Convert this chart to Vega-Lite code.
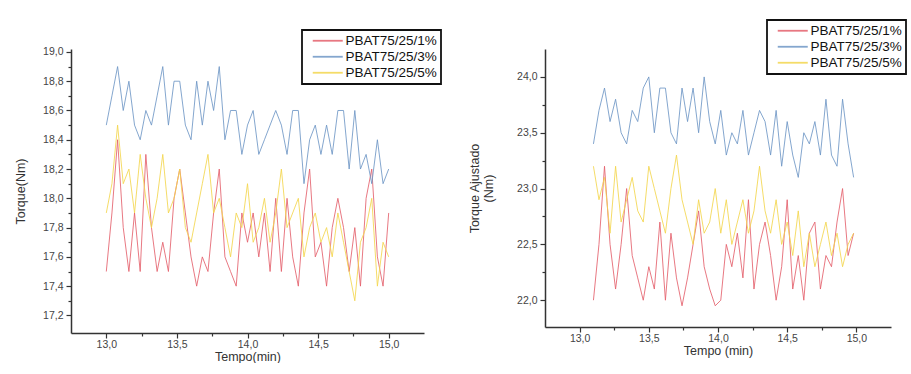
{
  "$schema": "https://vega.github.io/schema/vega-lite/v6.json",
  "background": "white",
  "padding": {"left": 14, "top": 19, "right": 0, "bottom": 0},
  "spacing": 121,
  "bounds": "flush",
  "config": {
    "font": "Liberation Sans",
    "view": {"stroke": null},
    "axis": {
      "grid": false,
      "domainColor": "#333333",
      "domainWidth": 1.5,
      "tickColor": "#333333",
      "tickWidth": 1.2,
      "labelFont": "Liberation Sans",
      "labelFontSize": 10.5,
      "labelColor": "#444444",
      "titleFont": "Liberation Sans",
      "titleFontSize": 12.5,
      "titleFontWeight": "normal",
      "titleColor": "#333333",
      "labelPadding": 3
    },
    "legend": {
      "orient": "none",
      "title": null,
      "strokeColor": "#111111",
      "strokeWidth": 1.8,
      "fillColor": "white",
      "padding": 4,
      "symbolType": "M0,0H10",
      "symbolSize": 36,
      "symbolStrokeWidth": 1.8,
      "labelFont": "Liberation Sans",
      "labelFontSize": 13.5,
      "labelColor": "#111111",
      "labelOffset": 26,
      "rowPadding": 1
    }
  },
  "datasets": {
    "left": [
      {"t": 13.00, "PBAT75/25/1%": 17.5, "PBAT75/25/3%": 18.5, "PBAT75/25/5%": 17.9},
      {"t": 13.04, "PBAT75/25/1%": 17.9, "PBAT75/25/3%": 18.7, "PBAT75/25/5%": 18.1},
      {"t": 13.08, "PBAT75/25/1%": 18.4, "PBAT75/25/3%": 18.9, "PBAT75/25/5%": 18.5},
      {"t": 13.12, "PBAT75/25/1%": 17.8, "PBAT75/25/3%": 18.6, "PBAT75/25/5%": 18.1},
      {"t": 13.16, "PBAT75/25/1%": 17.5, "PBAT75/25/3%": 18.8, "PBAT75/25/5%": 18.2},
      {"t": 13.20, "PBAT75/25/1%": 17.9, "PBAT75/25/3%": 18.5, "PBAT75/25/5%": 17.9},
      {"t": 13.24, "PBAT75/25/1%": 17.5, "PBAT75/25/3%": 18.4, "PBAT75/25/5%": 18.3},
      {"t": 13.28, "PBAT75/25/1%": 18.3, "PBAT75/25/3%": 18.6, "PBAT75/25/5%": 18.0},
      {"t": 13.32, "PBAT75/25/1%": 17.8, "PBAT75/25/3%": 18.5, "PBAT75/25/5%": 17.8},
      {"t": 13.36, "PBAT75/25/1%": 17.5, "PBAT75/25/3%": 18.7, "PBAT75/25/5%": 18.0},
      {"t": 13.40, "PBAT75/25/1%": 17.7, "PBAT75/25/3%": 18.9, "PBAT75/25/5%": 18.3},
      {"t": 13.44, "PBAT75/25/1%": 17.5, "PBAT75/25/3%": 18.5, "PBAT75/25/5%": 17.9},
      {"t": 13.48, "PBAT75/25/1%": 18.0, "PBAT75/25/3%": 18.8, "PBAT75/25/5%": 18.0},
      {"t": 13.52, "PBAT75/25/1%": 18.2, "PBAT75/25/3%": 18.8, "PBAT75/25/5%": 18.2},
      {"t": 13.56, "PBAT75/25/1%": 17.9, "PBAT75/25/3%": 18.5, "PBAT75/25/5%": 17.8},
      {"t": 13.60, "PBAT75/25/1%": 17.6, "PBAT75/25/3%": 18.4, "PBAT75/25/5%": 17.7},
      {"t": 13.64, "PBAT75/25/1%": 17.4, "PBAT75/25/3%": 18.8, "PBAT75/25/5%": 17.9},
      {"t": 13.68, "PBAT75/25/1%": 17.6, "PBAT75/25/3%": 18.5, "PBAT75/25/5%": 18.1},
      {"t": 13.72, "PBAT75/25/1%": 17.5, "PBAT75/25/3%": 18.8, "PBAT75/25/5%": 18.3},
      {"t": 13.76, "PBAT75/25/1%": 17.9, "PBAT75/25/3%": 18.6, "PBAT75/25/5%": 17.9},
      {"t": 13.80, "PBAT75/25/1%": 18.2, "PBAT75/25/3%": 18.9, "PBAT75/25/5%": 18.0},
      {"t": 13.84, "PBAT75/25/1%": 17.6, "PBAT75/25/3%": 18.4, "PBAT75/25/5%": 17.8},
      {"t": 13.88, "PBAT75/25/1%": 17.5, "PBAT75/25/3%": 18.6, "PBAT75/25/5%": 17.6},
      {"t": 13.92, "PBAT75/25/1%": 17.4, "PBAT75/25/3%": 18.6, "PBAT75/25/5%": 17.9},
      {"t": 13.96, "PBAT75/25/1%": 17.9, "PBAT75/25/3%": 18.3, "PBAT75/25/5%": 17.8},
      {"t": 14.00, "PBAT75/25/1%": 17.7, "PBAT75/25/3%": 18.5, "PBAT75/25/5%": 18.1},
      {"t": 14.04, "PBAT75/25/1%": 17.9, "PBAT75/25/3%": 18.6, "PBAT75/25/5%": 17.7},
      {"t": 14.08, "PBAT75/25/1%": 17.6, "PBAT75/25/3%": 18.3, "PBAT75/25/5%": 17.8},
      {"t": 14.12, "PBAT75/25/1%": 17.9, "PBAT75/25/3%": 18.4, "PBAT75/25/5%": 18.0},
      {"t": 14.16, "PBAT75/25/1%": 17.5, "PBAT75/25/3%": 18.5, "PBAT75/25/5%": 17.7},
      {"t": 14.20, "PBAT75/25/1%": 18.0, "PBAT75/25/3%": 18.6, "PBAT75/25/5%": 17.9},
      {"t": 14.24, "PBAT75/25/1%": 17.5, "PBAT75/25/3%": 18.5, "PBAT75/25/5%": 18.2},
      {"t": 14.28, "PBAT75/25/1%": 18.0, "PBAT75/25/3%": 18.3, "PBAT75/25/5%": 17.8},
      {"t": 14.32, "PBAT75/25/1%": 17.6, "PBAT75/25/3%": 18.6, "PBAT75/25/5%": 17.9},
      {"t": 14.36, "PBAT75/25/1%": 17.4, "PBAT75/25/3%": 18.6, "PBAT75/25/5%": 18.0},
      {"t": 14.40, "PBAT75/25/1%": 17.9, "PBAT75/25/3%": 18.1, "PBAT75/25/5%": 17.6},
      {"t": 14.44, "PBAT75/25/1%": 18.2, "PBAT75/25/3%": 18.4, "PBAT75/25/5%": 17.8},
      {"t": 14.48, "PBAT75/25/1%": 17.6, "PBAT75/25/3%": 18.5, "PBAT75/25/5%": 17.9},
      {"t": 14.52, "PBAT75/25/1%": 17.7, "PBAT75/25/3%": 18.3, "PBAT75/25/5%": 17.7},
      {"t": 14.56, "PBAT75/25/1%": 17.4, "PBAT75/25/3%": 18.5, "PBAT75/25/5%": 17.8},
      {"t": 14.60, "PBAT75/25/1%": 17.8, "PBAT75/25/3%": 18.3, "PBAT75/25/5%": 17.6},
      {"t": 14.64, "PBAT75/25/1%": 18.0, "PBAT75/25/3%": 18.6, "PBAT75/25/5%": 17.9},
      {"t": 14.68, "PBAT75/25/1%": 17.8, "PBAT75/25/3%": 18.6, "PBAT75/25/5%": 17.7},
      {"t": 14.72, "PBAT75/25/1%": 17.5, "PBAT75/25/3%": 18.2, "PBAT75/25/5%": 17.5},
      {"t": 14.76, "PBAT75/25/1%": 17.8, "PBAT75/25/3%": 18.6, "PBAT75/25/5%": 17.3},
      {"t": 14.80, "PBAT75/25/1%": 17.4, "PBAT75/25/3%": 18.2, "PBAT75/25/5%": 17.7},
      {"t": 14.84, "PBAT75/25/1%": 18.0, "PBAT75/25/3%": 18.3, "PBAT75/25/5%": 17.8},
      {"t": 14.88, "PBAT75/25/1%": 18.2, "PBAT75/25/3%": 18.1, "PBAT75/25/5%": 18.0},
      {"t": 14.92, "PBAT75/25/1%": 17.6, "PBAT75/25/3%": 18.4, "PBAT75/25/5%": 17.4},
      {"t": 14.96, "PBAT75/25/1%": 17.4, "PBAT75/25/3%": 18.1, "PBAT75/25/5%": 17.7},
      {"t": 15.00, "PBAT75/25/1%": 17.9, "PBAT75/25/3%": 18.2, "PBAT75/25/5%": 17.6}
    ],
    "right": [
      {"t": 13.10, "PBAT75/25/1%": 22.0, "PBAT75/25/3%": 23.4, "PBAT75/25/5%": 23.2},
      {"t": 13.14, "PBAT75/25/1%": 22.5, "PBAT75/25/3%": 23.7, "PBAT75/25/5%": 22.9},
      {"t": 13.18, "PBAT75/25/1%": 23.2, "PBAT75/25/3%": 23.9, "PBAT75/25/5%": 23.1},
      {"t": 13.22, "PBAT75/25/1%": 22.5, "PBAT75/25/3%": 23.6, "PBAT75/25/5%": 22.6},
      {"t": 13.26, "PBAT75/25/1%": 22.1, "PBAT75/25/3%": 23.8, "PBAT75/25/5%": 23.2},
      {"t": 13.30, "PBAT75/25/1%": 22.5, "PBAT75/25/3%": 23.5, "PBAT75/25/5%": 22.7},
      {"t": 13.34, "PBAT75/25/1%": 23.0, "PBAT75/25/3%": 23.4, "PBAT75/25/5%": 22.9},
      {"t": 13.38, "PBAT75/25/1%": 22.4, "PBAT75/25/3%": 23.7, "PBAT75/25/5%": 23.1},
      {"t": 13.42, "PBAT75/25/1%": 22.2, "PBAT75/25/3%": 23.6, "PBAT75/25/5%": 22.8},
      {"t": 13.46, "PBAT75/25/1%": 22.0, "PBAT75/25/3%": 23.9, "PBAT75/25/5%": 22.7},
      {"t": 13.50, "PBAT75/25/1%": 22.3, "PBAT75/25/3%": 24.0, "PBAT75/25/5%": 23.2},
      {"t": 13.54, "PBAT75/25/1%": 22.1, "PBAT75/25/3%": 23.5, "PBAT75/25/5%": 23.0},
      {"t": 13.58, "PBAT75/25/1%": 22.7, "PBAT75/25/3%": 23.9, "PBAT75/25/5%": 22.8},
      {"t": 13.62, "PBAT75/25/1%": 22.0, "PBAT75/25/3%": 23.9, "PBAT75/25/5%": 22.6},
      {"t": 13.66, "PBAT75/25/1%": 22.6, "PBAT75/25/3%": 23.5, "PBAT75/25/5%": 23.0},
      {"t": 13.70, "PBAT75/25/1%": 22.2, "PBAT75/25/3%": 23.4, "PBAT75/25/5%": 23.3},
      {"t": 13.74, "PBAT75/25/1%": 21.95, "PBAT75/25/3%": 23.9, "PBAT75/25/5%": 22.9},
      {"t": 13.78, "PBAT75/25/1%": 22.2, "PBAT75/25/3%": 23.6, "PBAT75/25/5%": 22.7},
      {"t": 13.82, "PBAT75/25/1%": 22.5, "PBAT75/25/3%": 23.9, "PBAT75/25/5%": 22.5},
      {"t": 13.86, "PBAT75/25/1%": 22.8, "PBAT75/25/3%": 23.5, "PBAT75/25/5%": 22.9},
      {"t": 13.90, "PBAT75/25/1%": 22.3, "PBAT75/25/3%": 24.0, "PBAT75/25/5%": 22.6},
      {"t": 13.94, "PBAT75/25/1%": 22.1, "PBAT75/25/3%": 23.6, "PBAT75/25/5%": 22.7},
      {"t": 13.98, "PBAT75/25/1%": 21.95, "PBAT75/25/3%": 23.4, "PBAT75/25/5%": 23.0},
      {"t": 14.02, "PBAT75/25/1%": 22.0, "PBAT75/25/3%": 23.7, "PBAT75/25/5%": 22.6},
      {"t": 14.06, "PBAT75/25/1%": 22.5, "PBAT75/25/3%": 23.3, "PBAT75/25/5%": 22.9},
      {"t": 14.10, "PBAT75/25/1%": 22.3, "PBAT75/25/3%": 23.5, "PBAT75/25/5%": 22.5},
      {"t": 14.14, "PBAT75/25/1%": 22.6, "PBAT75/25/3%": 23.4, "PBAT75/25/5%": 22.7},
      {"t": 14.18, "PBAT75/25/1%": 22.2, "PBAT75/25/3%": 23.7, "PBAT75/25/5%": 22.9},
      {"t": 14.22, "PBAT75/25/1%": 22.9, "PBAT75/25/3%": 23.3, "PBAT75/25/5%": 22.6},
      {"t": 14.26, "PBAT75/25/1%": 22.1, "PBAT75/25/3%": 23.5, "PBAT75/25/5%": 22.8},
      {"t": 14.30, "PBAT75/25/1%": 22.5, "PBAT75/25/3%": 23.7, "PBAT75/25/5%": 23.2},
      {"t": 14.34, "PBAT75/25/1%": 22.7, "PBAT75/25/3%": 23.6, "PBAT75/25/5%": 22.8},
      {"t": 14.38, "PBAT75/25/1%": 22.4, "PBAT75/25/3%": 23.3, "PBAT75/25/5%": 22.6},
      {"t": 14.42, "PBAT75/25/1%": 22.0, "PBAT75/25/3%": 23.7, "PBAT75/25/5%": 22.9},
      {"t": 14.46, "PBAT75/25/1%": 22.3, "PBAT75/25/3%": 23.2, "PBAT75/25/5%": 22.5},
      {"t": 14.50, "PBAT75/25/1%": 22.9, "PBAT75/25/3%": 23.6, "PBAT75/25/5%": 22.7},
      {"t": 14.54, "PBAT75/25/1%": 22.1, "PBAT75/25/3%": 23.3, "PBAT75/25/5%": 22.4},
      {"t": 14.58, "PBAT75/25/1%": 22.4, "PBAT75/25/3%": 23.1, "PBAT75/25/5%": 22.8},
      {"t": 14.62, "PBAT75/25/1%": 22.0, "PBAT75/25/3%": 23.5, "PBAT75/25/5%": 22.3},
      {"t": 14.66, "PBAT75/25/1%": 22.6, "PBAT75/25/3%": 23.4, "PBAT75/25/5%": 22.6},
      {"t": 14.70, "PBAT75/25/1%": 22.7, "PBAT75/25/3%": 23.6, "PBAT75/25/5%": 22.3},
      {"t": 14.74, "PBAT75/25/1%": 22.1, "PBAT75/25/3%": 23.3, "PBAT75/25/5%": 22.5},
      {"t": 14.78, "PBAT75/25/1%": 22.4, "PBAT75/25/3%": 23.8, "PBAT75/25/5%": 22.7},
      {"t": 14.82, "PBAT75/25/1%": 22.3, "PBAT75/25/3%": 23.3, "PBAT75/25/5%": 22.4},
      {"t": 14.86, "PBAT75/25/1%": 22.7, "PBAT75/25/3%": 23.2, "PBAT75/25/5%": 22.6},
      {"t": 14.90, "PBAT75/25/1%": 23.0, "PBAT75/25/3%": 23.8, "PBAT75/25/5%": 22.3},
      {"t": 14.94, "PBAT75/25/1%": 22.4, "PBAT75/25/3%": 23.4, "PBAT75/25/5%": 22.5},
      {"t": 14.98, "PBAT75/25/1%": 22.6, "PBAT75/25/3%": 23.1, "PBAT75/25/5%": 22.6}
    ]
  },
  "hconcat": [
    {
      "width": 353,
      "height": 284,
      "data": {"name": "left"},
      "transform": [{"fold": ["PBAT75/25/1%", "PBAT75/25/3%", "PBAT75/25/5%"], "as": ["serie", "valor"]}],
      "mark": {"type": "line", "strokeWidth": 1, "opacity": 0.85},
      "encoding": {
        "x": {
          "field": "t", "type": "quantitative",
          "scale": {"domain": [12.75, 15.25], "nice": false, "zero": false},
          "axis": {
            "title": "Tempo(min)",
            "values": [13, 13.25, 13.5, 13.75, 14, 14.25, 14.5, 14.75, 15],
            "format": ".1f",
            "labelExpr": "round(datum.value*100)%50==0 ? replace(datum.label, '.', ',') : ''",
            "tickSize": {"condition": {"test": "round(datum.value*100)%50==0", "value": 5}, "value": 3},
            "labelPadding": 1,
            "titlePadding": 1
          }
        },
        "y": {
          "field": "valor", "type": "quantitative",
          "scale": {"domain": [17.08, 19.02], "nice": false, "zero": false},
          "axis": {
            "title": "Torque(Nm)",
            "values": [17.2, 17.3, 17.4, 17.5, 17.6, 17.7, 17.8, 17.9, 18.0, 18.1, 18.2, 18.3, 18.4, 18.5, 18.6, 18.7, 18.8, 18.9, 19.0],
            "format": ".1f",
            "labelExpr": "round(datum.value*10)%2==0 ? replace(datum.label, '.', ',') : ''",
            "tickSize": {"condition": {"test": "round(datum.value*10)%2==0", "value": 5}, "value": 3},
            "titlePadding": 15
          }
        },
        "color": {
          "field": "serie", "type": "nominal",
          "scale": {"domain": ["PBAT75/25/1%", "PBAT75/25/3%", "PBAT75/25/5%"], "range": ["#e4606c", "#6f97c6", "#f3d64e"]},
          "legend": {"legendX": 231, "legendY": -19}
        }
      }
    },
    {
      "width": 346,
      "height": 278,
      "data": {"name": "right"},
      "transform": [{"fold": ["PBAT75/25/1%", "PBAT75/25/3%", "PBAT75/25/5%"], "as": ["serie", "valor"]}],
      "mark": {"type": "line", "strokeWidth": 1, "opacity": 0.85},
      "encoding": {
        "x": {
          "field": "t", "type": "quantitative",
          "scale": {"domain": [12.75, 15.25], "nice": false, "zero": false},
          "axis": {
            "title": "Tempo (min)",
            "values": [13, 13.25, 13.5, 13.75, 14, 14.25, 14.5, 14.75, 15],
            "format": ".1f",
            "labelExpr": "round(datum.value*100)%50==0 ? replace(datum.label, '.', ',') : ''",
            "tickSize": {"condition": {"test": "round(datum.value*100)%50==0", "value": 5}, "value": 3},
            "labelPadding": 1,
            "titlePadding": 1
          }
        },
        "y": {
          "field": "valor", "type": "quantitative",
          "scale": {"domain": [21.76, 24.25], "nice": false, "zero": false},
          "axis": {
            "title": ["Torque Ajustado", "(Nm)"],
            "values": [22, 22.25, 22.5, 22.75, 23, 23.25, 23.5, 23.75, 24],
            "format": ".1f",
            "labelExpr": "round(datum.value*100)%50==0 ? replace(datum.label, '.', ',') : ''",
            "tickSize": {"condition": {"test": "round(datum.value*100)%50==0", "value": 5}, "value": 3},
            "titlePadding": 21
          }
        },
        "color": {
          "field": "serie", "type": "nominal",
          "scale": {"domain": ["PBAT75/25/1%", "PBAT75/25/3%", "PBAT75/25/5%"], "range": ["#e4606c", "#6f97c6", "#f3d64e"]},
          "legend": {"legendX": 222, "legendY": -29}
        }
      }
    }
  ],
  "resolve": {"scale": {"y": "independent", "x": "independent", "color": "shared"}, "legend": {"color": "independent"}}
}
